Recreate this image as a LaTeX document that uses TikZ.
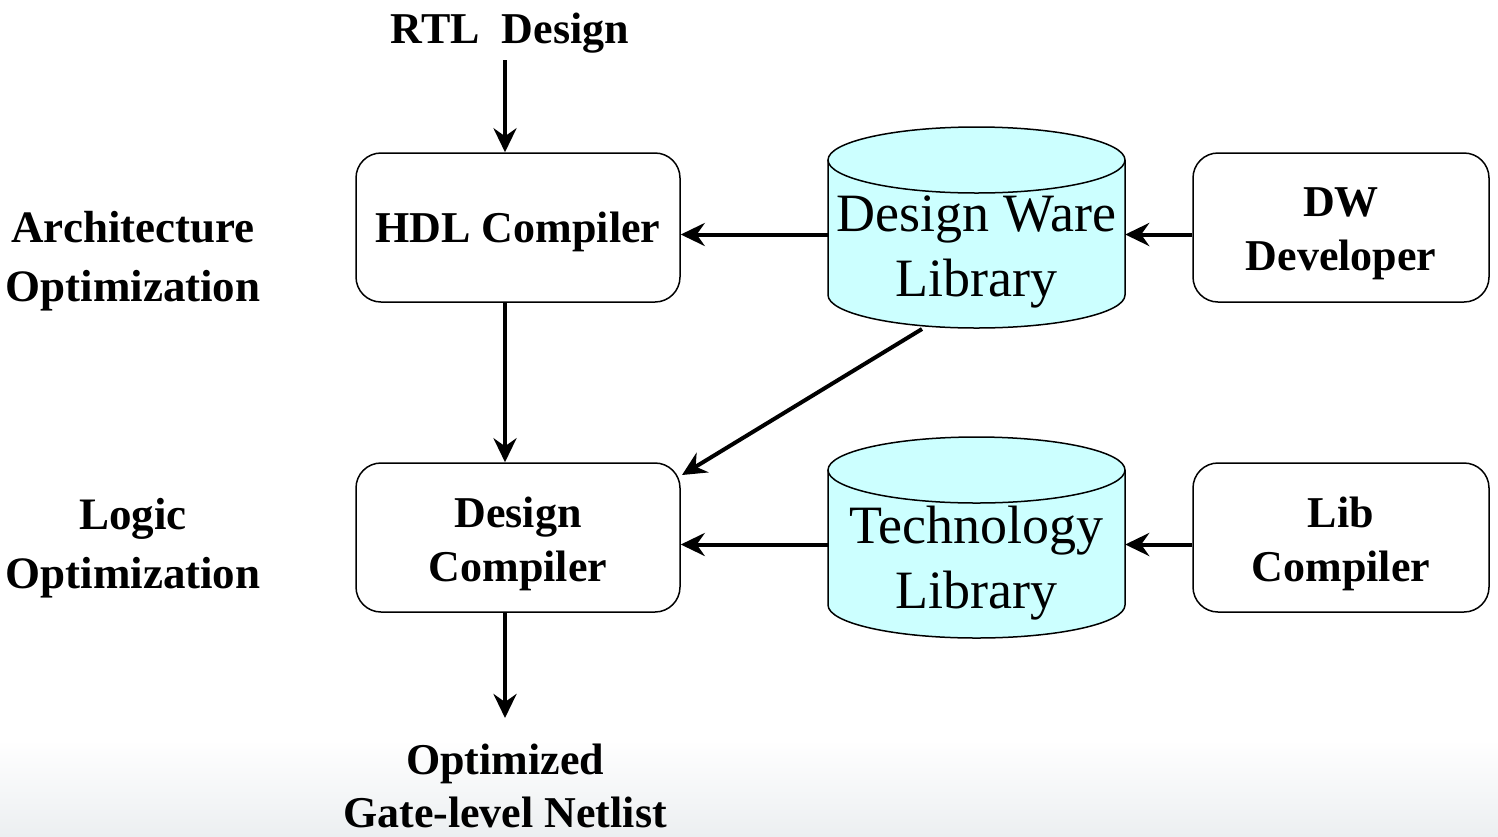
\documentclass[tikz,border=0pt]{standalone}
\usepackage{fontspec}
\setmainfont{Liberation Serif}
\usetikzlibrary{arrows.meta}
\definecolor{cylfill}{HTML}{CCFFFF}
\definecolor{bgbot}{RGB}{236,239,241}
\begin{document}
\begin{tikzpicture}[x=1pt,y=-1pt,
  boldtxt/.style={font=\fontsize{44}{54}\selectfont\bfseries, align=center},
  lbl/.style={boldtxt, font=\fontsize{45}{59}\selectfont\bfseries},
  box/.style={draw, line width=1.5pt, rounded corners=25pt, minimum width=324pt, minimum height=149pt, inner sep=0pt},
  cylnode/.style={minimum width=297pt, minimum height=202pt, inner sep=0pt},
  cyltxt/.style={font=\fontsize{54}{65}\selectfont, align=center},
  cylline/.style={line width=1.5pt},
  arr/.style={line width=4pt, -{Stealth[length=24pt,width=23pt,inset=8pt]}}]
\useasboundingbox (0,0) rectangle (1498,836);
\shade[top color=white, bottom color=bgbot] (0,740) rectangle (1498,836);

% cylinders
\fill[cylfill] (828,160) -- (828,295) .. controls (828,313.2) and (894.5,328) .. (976.5,328) .. controls (1058.5,328) and (1125,313.2) .. (1125,295) -- (1125,160) -- cycle;
\draw[cylline] (828,160) -- (828,295) .. controls (828,313.2) and (894.5,328) .. (976.5,328) .. controls (1058.5,328) and (1125,313.2) .. (1125,295) -- (1125,160);
\filldraw[cylline, fill=cylfill] (976.5,160) ellipse [x radius=148.5, y radius=33];

\fill[cylfill] (828,470) -- (828,605) .. controls (828,623.2) and (894.5,638) .. (976.5,638) .. controls (1058.5,638) and (1125,623.2) .. (1125,605) -- (1125,470) -- cycle;
\draw[cylline] (828,470) -- (828,605) .. controls (828,623.2) and (894.5,638) .. (976.5,638) .. controls (1058.5,638) and (1125,623.2) .. (1125,605) -- (1125,470);
\filldraw[cylline, fill=cylfill] (976.5,470) ellipse [x radius=148.5, y radius=33];

\node[cylnode] (dwl) at (976.5,227.5) {};
\node[cylnode] (tl) at (976.5,537.5) {};
\node[cyltxt] (dwlt) at (976.5,252) {Design Ware\\Library};
\node[cyltxt] (tlt) at (976.5,563) {Technology\\Library};

% boxes
\node[box] (hdl) at (518,227.5) {};
\node[box] (dc) at (518,537.5) {};
\node[box, minimum width=296pt] (dwd) at (1341,227.5) {};
\node[box, minimum width=296pt] (lib) at (1341,537.5) {};
\node[boldtxt] (hdlt) at (518,232) {HDL Compiler};
\node[boldtxt] (dct) at (518,544) {Design\\Compiler};
\node[boldtxt] (dwdt) at (1341,234) {DW\\Developer};
\node[boldtxt] (libt) at (1341,544) {Lib\\Compiler};

% labels
\node[boldtxt] (rtl) at (510,33) {RTL\ \ Design};
\node[lbl] (arch) at (133,261) {Architecture\\Optimization};
\node[lbl] (logic) at (133,548) {Logic\\Optimization};
\node[boldtxt, font=\fontsize{44}{53}\selectfont\bfseries] (out) at (505,786) {Optimized\\Gate-level Netlist};

% connectors
\coordinate (a1) at (505,60);
\coordinate (a2) at (505,718);
\coordinate (dwbot) at (922,329);
\coordinate (dcin) at (682,475);
\draw[arr] (a1) -- (a1 |- hdl.north);
\draw[arr] (hdl.south -| a1) -- (dc.north -| a1);
\draw[arr] (dc.south -| a1) -- (a2);
\draw[arr] ([yshift=-7pt]dwl.west) -- ([yshift=-7pt]hdl.east);
\draw[arr] ([yshift=-7pt]dwd.west) -- ([yshift=-7pt]dwl.east);
\draw[arr] ([yshift=-7pt]tl.west) -- ([yshift=-7pt]dc.east);
\draw[arr] ([yshift=-7pt]lib.west) -- ([yshift=-7pt]tl.east);
\draw[arr] (dwbot) -- (dcin);
\end{tikzpicture}
\end{document}
